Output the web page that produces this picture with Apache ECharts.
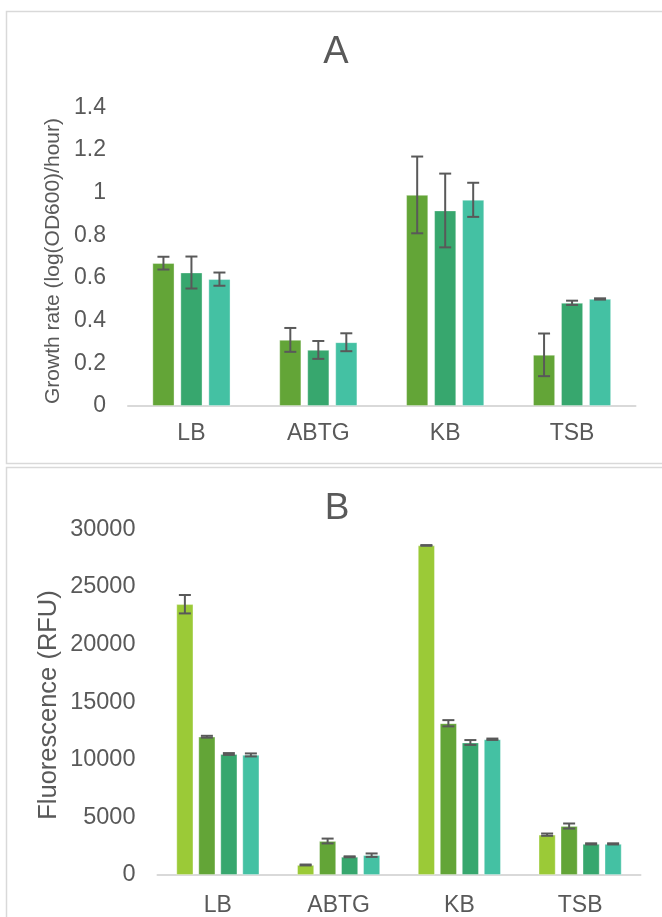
<!DOCTYPE html>
<html>
<head>
<meta charset="utf-8">
<script src="https://cdn.jsdelivr.net/npm/echarts@6/dist/echarts.min.js"></script>
<style>
html,body{margin:0;padding:0;background:#fff;}
#chart{width:662px;height:917px;}
</style>
</head>
<body>
<div id="chart"></div>
<script>
// ---------- data ----------
const categories = ['LB', 'ABTG', 'KB', 'TSB'];

// Panel A: growth rate (log(OD600)/hour)
const growth1 = [0.67, 0.31, 0.99, 0.24];
const growth1Err = [0.03, 0.056, 0.18, 0.10];
const growth2 = [0.626, 0.263, 0.917, 0.484];
const growth2Err = [0.075, 0.042, 0.173, 0.01];
const growth3 = [0.595, 0.299, 0.967, 0.502];
const growth3Err = [0.031, 0.042, 0.08, 0.003];

// Panel B: fluorescence (RFU)
const fluo1 = [23500, 870, 28600, 3500];
const fluo1Err = [800, 40, 30, 100];
const fluo2 = [12000, 2950, 13170, 4250];
const fluo2Err = [80, 210, 270, 220];
const fluo3 = [10500, 1580, 11500, 2700];
const fluo3Err = [80, 40, 210, 50];
const fluo4 = [10420, 1720, 11780, 2700];
const fluo4Err = [130, 150, 60, 50];

const yTicksA = { min: 0, max: 1.4, interval: 0.2 };
const yTicksB = { min: 0, max: 30000, interval: 5000 };

// ---------- styles ----------
const textColor = '#595959';
const axisColor = '#d9d9d9';
const colLight = '#9bca37';
const colGreen = '#63a537';
const colMid = '#37a76e';
const colTeal = '#44c1a3';
const errColor = '#595959';
const FONT = '"Liberation Sans", Arial, sans-serif';

const A_BAR_W = 22, A_GAP = 6;
const B_BAR_W = 17, B_GAP = 5;

function barSeries(name, data, color, axisIdx, w, gap) {
  return {
    type: 'bar', name: name, data: data,
    xAxisIndex: axisIdx, yAxisIndex: axisIdx,
    barWidth: w, barGap: (gap / w * 100) + '%',
    itemStyle: { color: color, borderColor: 'rgba(255,255,255,0.45)', borderWidth: 0.8 },
    silent: true, animation: false, z: 2
  };
}

function errSeries(vals, errs, idx, n, axisIdx, w, gap) {
  const offset = (idx - (n - 1) / 2) * (w + gap);
  return {
    type: 'custom',
    xAxisIndex: axisIdx, yAxisIndex: axisIdx,
    data: vals.map((v, i) => [i, v, errs[i]]),
    encode: { x: 0, y: 1 },
    silent: true, animation: false, z: 5,
    renderItem: function (params, api) {
      const ci = api.value(0), v = api.value(1), e = api.value(2);
      const top = api.coord([ci, v + e]);
      const bot = api.coord([ci, v - e]);
      const x = top[0] + offset;
      const cap = 6;
      const st = { stroke: errColor, lineWidth: 2 };
      return {
        type: 'group',
        children: [
          { type: 'line', shape: { x1: x, y1: top[1], x2: x, y2: bot[1] }, style: st },
          { type: 'line', shape: { x1: x - cap, y1: top[1], x2: x + cap, y2: top[1] }, style: st },
          { type: 'line', shape: { x1: x - cap, y1: bot[1], x2: x + cap, y2: bot[1] }, style: st }
        ]
      };
    }
  };
}

function xAx(gridIndex, margin) {
  return {
    type: 'category', gridIndex: gridIndex, data: categories,
    axisLine: { show: true, lineStyle: { color: axisColor, width: 2 } },
    axisTick: { show: false },
    axisLabel: { color: textColor, fontSize: 23, margin: margin, fontFamily: FONT }
  };
}
function yAx(gridIndex, t, size) {
  return {
    type: 'value', gridIndex: gridIndex, min: t.min, max: t.max, interval: t.interval,
    axisLine: { show: false }, axisTick: { show: false },
    splitLine: { show: false },
    axisLabel: { color: textColor, fontSize: size, margin: 22, fontFamily: FONT,
      formatter: function (v) { return String(Math.round(v * 1000) / 1000); } }
  };
}

const chart = echarts.init(document.getElementById('chart'), null, { renderer: 'canvas' });
chart.setOption({
  backgroundColor: '#fff',
  animation: false,
  textStyle: { fontFamily: FONT },
  grid: [
    { left: 128, top: 107.5, width: 507.5, height: 298.5 },
    { left: 157.5, top: 529.3, width: 483, height: 352.4 }
  ],
  xAxis: [xAx(0, 16), xAx(1, 19)],
  yAxis: [yAx(0, yTicksA, 23), yAx(1, yTicksB, 23.5)],
  graphic: [
    { type: 'rect', shape: { x: 6.5, y: 11.5, width: 670, height: 452 }, style: { fill: 'none', stroke: axisColor, lineWidth: 1.5 }, z: 0 },
    { type: 'rect', shape: { x: 6.5, y: 467.5, width: 670, height: 470 }, style: { fill: 'none', stroke: axisColor, lineWidth: 1.5 }, z: 0 },
    { type: 'text', x: 336, y: 53, style: { text: 'A', fill: textColor, font: '38px ' + FONT, textAlign: 'center', textVerticalAlign: 'middle' } },
    { type: 'text', x: 337, y: 509, style: { text: 'B', fill: textColor, font: '37px ' + FONT, textAlign: 'center', textVerticalAlign: 'middle' } },
    { type: 'text', x: 53, y: 261, rotation: Math.PI / 2, style: { text: 'Growth rate (log(OD600)/hour)', fill: textColor, font: '21px ' + FONT, textAlign: 'center', textVerticalAlign: 'middle' } },
    { type: 'text', x: 49, y: 705, rotation: Math.PI / 2, style: { text: 'Fluorescence (RFU)', fill: textColor, font: '25.5px ' + FONT, textAlign: 'center', textVerticalAlign: 'middle' } }
  ],
  series: [
    barSeries('A1', growth1, colGreen, 0, A_BAR_W, A_GAP),
    barSeries('A2', growth2, colMid, 0, A_BAR_W, A_GAP),
    barSeries('A3', growth3, colTeal, 0, A_BAR_W, A_GAP),
    errSeries(growth1, growth1Err, 0, 3, 0, A_BAR_W, A_GAP),
    errSeries(growth2, growth2Err, 1, 3, 0, A_BAR_W, A_GAP),
    errSeries(growth3, growth3Err, 2, 3, 0, A_BAR_W, A_GAP),
    barSeries('B1', fluo1, colLight, 1, B_BAR_W, B_GAP),
    barSeries('B2', fluo2, colGreen, 1, B_BAR_W, B_GAP),
    barSeries('B3', fluo3, colMid, 1, B_BAR_W, B_GAP),
    barSeries('B4', fluo4, colTeal, 1, B_BAR_W, B_GAP),
    errSeries(fluo1, fluo1Err, 0, 4, 1, B_BAR_W, B_GAP),
    errSeries(fluo2, fluo2Err, 1, 4, 1, B_BAR_W, B_GAP),
    errSeries(fluo3, fluo3Err, 2, 4, 1, B_BAR_W, B_GAP),
    errSeries(fluo4, fluo4Err, 3, 4, 1, B_BAR_W, B_GAP)
  ]
});
</script>
</body>
</html>
